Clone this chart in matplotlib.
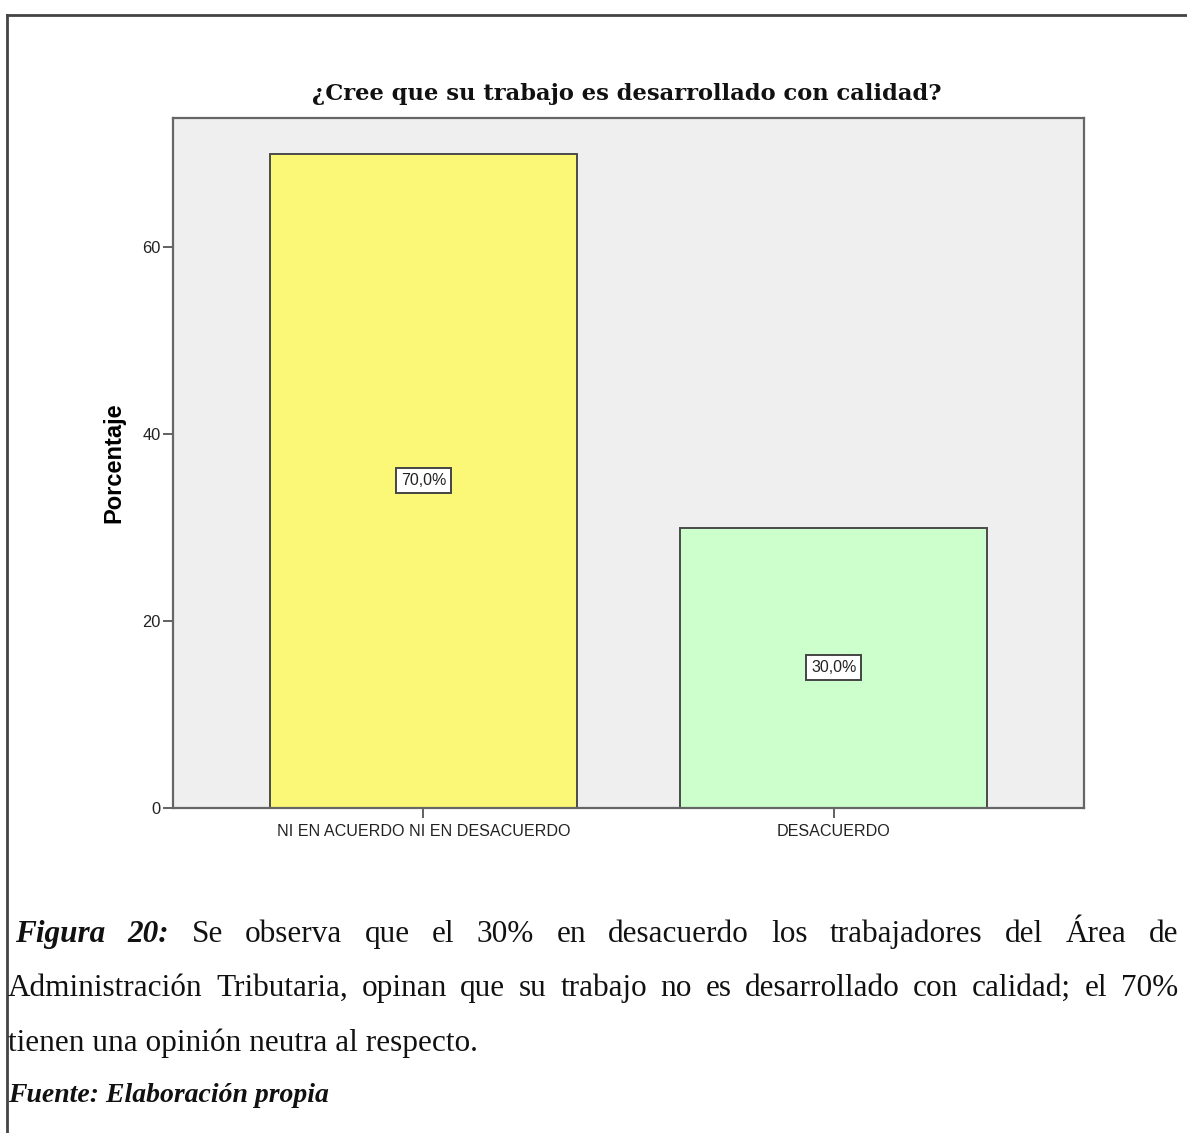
import matplotlib
matplotlib.use("Agg")
import matplotlib.pyplot as plt

W, H = 1187, 1133

categorias = ["NI EN ACUERDO NI EN DESACUERDO", "DESACUERDO"]
porcentajes = [70.0, 30.0]
colores = ["#fbf877", "#ccffcc"]
yticks = [0, 20, 40, 60]

titulo = "¿Cree que su trabajo es desarrollado con calidad?"
linea1 = [("Figura", "bi"), ("20:", "bi"), ("Se", "r"), ("observa", "r"), ("que", "r"),
          ("el", "r"), ("30%", "r"), ("en", "r"), ("desacuerdo", "r"), ("los", "r"),
          ("trabajadores", "r"), ("del", "r"), ("Área", "r"), ("de", "r")]
linea2 = "Administración Tributaria, opinan que su trabajo no es desarrollado con calidad; el 70%"
linea3 = "tienen una opinión neutra al respecto."
fuente = "Fuente: Elaboración propia"

fig = plt.figure(figsize=(W / 100, H / 100), dpi=100)

# background axes in pixel coordinates for frame and caption
bg = fig.add_axes([0, 0, 1, 1])
bg.set_xlim(0, W)
bg.set_ylim(H, 0)
bg.axis("off")
bg.plot([7, W], [15, 15], color="#444444", lw=2)
bg.plot([7, 7], [15, H], color="#444444", lw=2)

bg.text(627, 94, titulo, ha="center", va="center", fontsize=16.3,
        fontweight="bold", family="DejaVu Serif", color="#111111")

# main chart
ax = fig.add_axes([173 / W, 1 - 808 / H, (1084 - 173) / W, (808 - 118) / H])
ax.set_facecolor("#efefef")
x = list(range(len(categorias)))
ax.bar(x, porcentajes, width=0.748, color=colores, edgecolor="#4a4a4a", linewidth=1.4)
ax.set_xlim(-0.61, 1.61)
ax.set_ylim(0, 73.8)
ax.set_yticks(yticks)
ax.set_yticklabels([str(v) for v in yticks], fontsize=11.8, family="Liberation Sans", color="#222222")
ax.set_xticks(x)
ax.set_xticklabels(categorias, fontsize=11.6, family="Liberation Sans", color="#222222")
ax.tick_params(axis="y", length=7.5, width=1.3, color="#555555", pad=1.5)
ax.tick_params(axis="x", length=7.5, width=1.3, color="#555555", pad=4)
for s in ax.spines.values():
    s.set_color("#666666")
    s.set_linewidth(1.6)
ax.set_ylabel("Porcentaje", fontsize=17, fontweight="bold", family="Liberation Sans", labelpad=12)

for xi, v in zip(x, porcentajes):
    ax.text(xi, v / 2, f"{v:.1f}%".replace(".", ","), ha="center", va="center",
            fontsize=11.5, family="Liberation Sans", color="#222222",
            bbox=dict(boxstyle="square,pad=0.3", facecolor="white", edgecolor="#444444", linewidth=1.4))

# caption, justified lines
renderer = fig.canvas.get_renderer()
estilos = {"bi": dict(fontweight="bold", fontstyle="italic"), "r": {}}
TAM = 22.5


def justificar(palabras, y, x0, x1, size):
    txts = [bg.text(x0, y, w, va="baseline", ha="left", fontsize=size, family="Liberation Serif",
                    color="#111111", **estilos[e]) for w, e in palabras]
    anchos = [t.get_window_extent(renderer).width for t in txts]
    hueco = (x1 - x0 - sum(anchos)) / (len(txts) - 1)
    pos = x0
    for t, a in zip(txts, anchos):
        t.set_x(pos)
        pos += a + hueco


justificar(linea1, 942, 15, 1178, TAM)
justificar([(w, "r") for w in linea2.split()], 996, 8, 1178, TAM)
bg.text(8, 1051, linea3, va="baseline", ha="left", fontsize=TAM, family="Liberation Serif", color="#111111")
bg.text(8, 1102, fuente, va="baseline", ha="left", fontsize=20, family="Liberation Serif",
        fontweight="bold", fontstyle="italic", color="#111111")

fig.savefig("out.png", dpi=100)
